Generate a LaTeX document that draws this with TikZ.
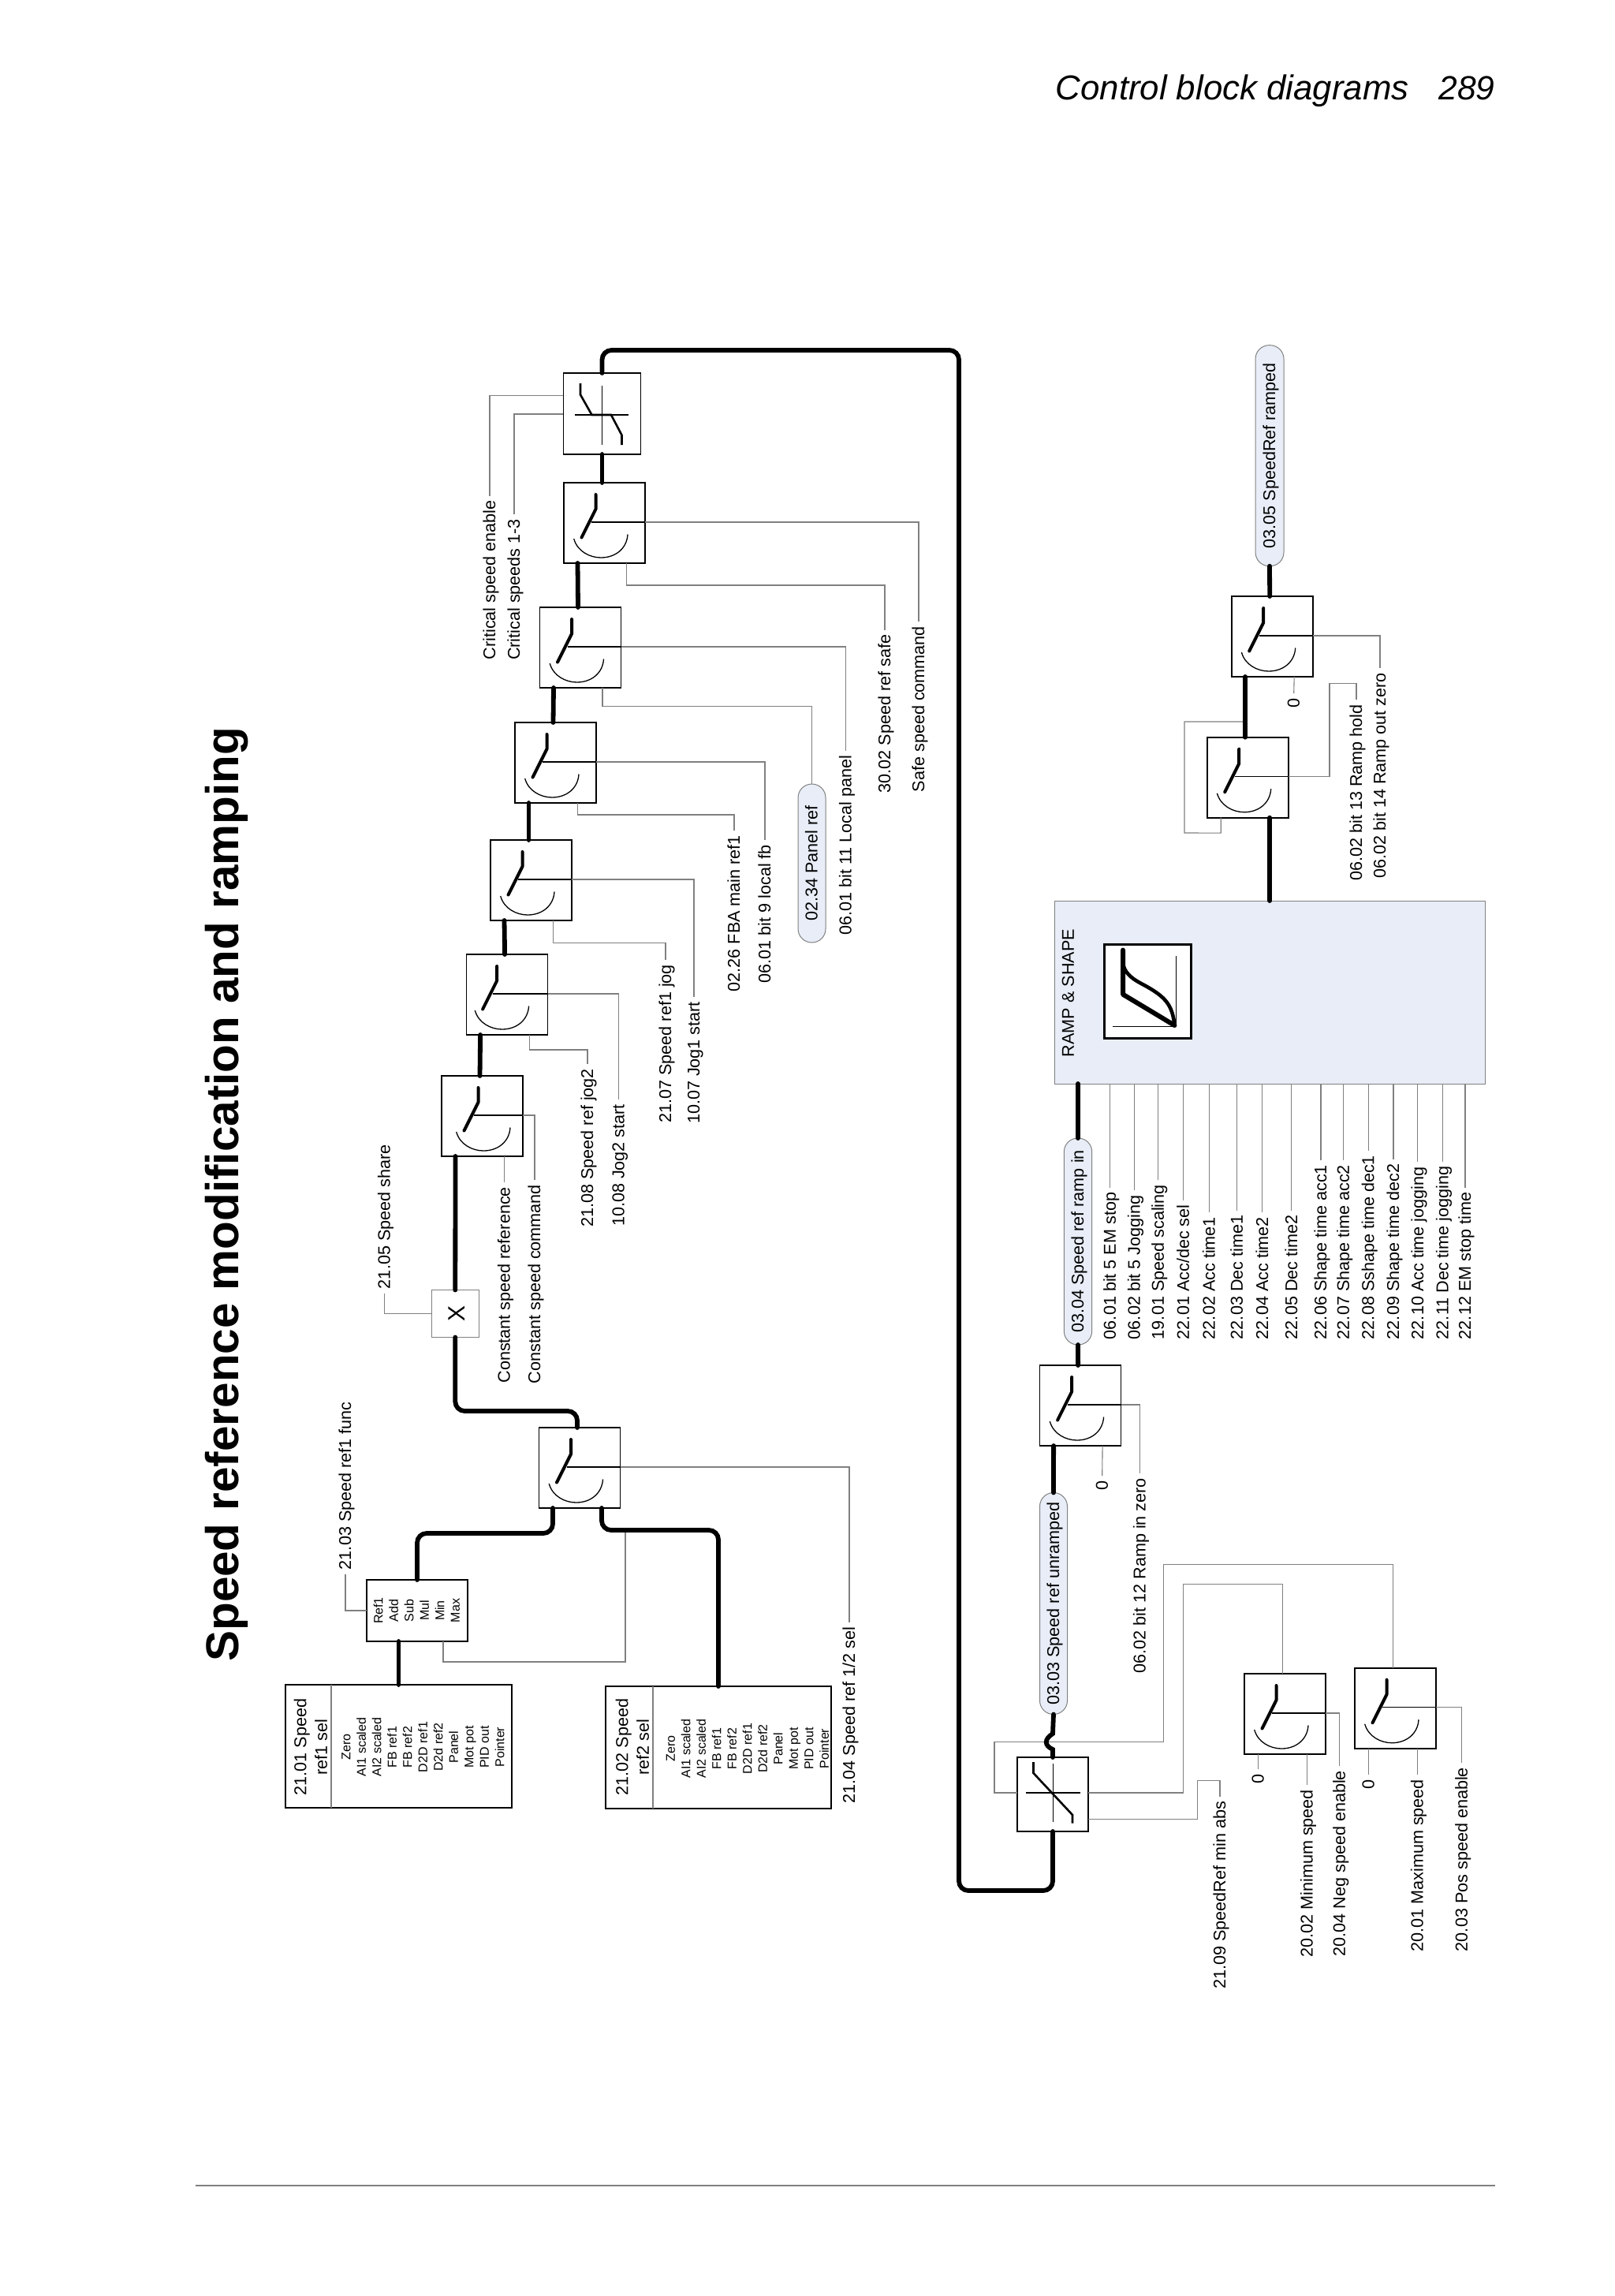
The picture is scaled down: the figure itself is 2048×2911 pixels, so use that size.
\documentclass[tikz,border=0pt]{standalone}
\usepackage{fontspec}
\setmainfont{Liberation Sans}
\definecolor{paleblue}{HTML}{E8EDF7}
\definecolor{wiregray}{HTML}{808080}
\tikzset{
  thickline/.style={line width=2.9pt, line cap=round},
  thinline/.style={line width=.55pt, draw=wiregray},
  fineline/.style={line width=.65pt},
  pole/.style={line width=2pt, line cap=round, line join=round},
  switchbox/.style={draw, fill=white, line width=.8pt, inner sep=0, outer sep=0, minimum width=51.5pt, minimum height=51pt},
  selbox/.style={draw, fill=white, line width=1.1pt, inner sep=0, outer sep=0},
  lbl/.style={rotate=90, inner xsep=3pt, inner ysep=0, outer sep=0, text height=.72em, text depth=0pt, font=\fontsize{10.8}{12}\selectfont},
  small/.style={rotate=90, align=center, inner sep=0, font=\fontsize{8}{9.75}\selectfont},
  pill/.style={draw=wiregray, fill=paleblue, line width=.5pt, rotate=90, inner sep=0, outer sep=0, rounded corners=8.7pt, text height=.72em, text depth=0pt, font=\fontsize{10.8}{12}\selectfont},
}
\newcommand{\switchblock}[4][0]{
  \node[switchbox, anchor=north west] (#2) at (#3,#4) {};
  \begin{scope}[shift={(#2.north west)}]
    \draw[pole] (40.5+#1,15) -- (40.5+#1,33.5) -- (22.5+#1,69.5);
    \draw[fineline] (35+#1,50) -- (103,50);
    \draw[fineline] (12.7+#1,71) .. controls (17+#1,87) and (33+#1,95) .. (47+#1,95) .. controls (66+#1,95) and (80+#1,83) .. (81+#1,65.5);
    \coordinate (#2-in) at (17.5,102);
    \coordinate (#2-out) at (48.5,0);
    \coordinate (#2-alt) at (79.5,102);
    \coordinate (#2-ctl) at (103,50);
  \end{scope}
}
\begin{document}
\begin{tikzpicture}[x=.5pt, y=-.5pt]
\useasboundingbox (0,0) rectangle (2048,2911);

\node[rotate=90, anchor=base west, inner sep=0, font=\fontsize{29.2}{32}\selectfont\bfseries] (title) at (302,2107) {Speed reference modification and ramping};
\node[anchor=base east, inner sep=0, font=\fontsize{21.9}{24}\selectfont\itshape] (pagetitle) at (1787,127) {Control block diagrams};
\node[anchor=base east, inner sep=0, font=\fontsize{21.3}{24}\selectfont\itshape] (pageno) at (1896,127) {289};
\draw[line width=1pt, draw=wiregray] (248,2771) -- (1896,2771);

\node[selbox, minimum width=143.5pt, minimum height=78pt] (sel1) at (505.5,2214) {};
\draw[thinline] (420,2136) -- (420,2292);
\node[rotate=90, align=center, inner sep=0, font=\fontsize{10.8}{13.25}\selectfont] (sel1title) at (394,2215) {21.01 Speed\\ref1 sel};
\node[small] (sel1list) at (536.5,2215) {Zero\\AI1 scaled\\AI2 scaled\\FB ref1\\FB ref2\\D2D ref1\\D2d ref2\\Panel\\Mot pot\\PID out\\Pointer};
\node[selbox, minimum width=143pt, minimum height=77.5pt] (sel2) at (911,2215.5) {};
\draw[thinline] (828,2138) -- (828,2293);
\node[rotate=90, align=center, inner sep=0, font=\fontsize{10.8}{13.25}\selectfont] (sel2title) at (802,2215) {21.02 Speed\\ref2 sel};
\node[small] (sel2list) at (948,2217) {Zero\\AI1 scaled\\AI2 scaled\\FB ref1\\FB ref2\\D2D ref1\\D2d ref2\\Panel\\Mot pot\\PID out\\Pointer};

\node[draw, line width=.7pt, inner sep=0, outer sep=0, minimum width=64pt, minimum height=39pt] (func) at (529,2042) {};
\node[small] (funclist) at (528.5,2042) {Ref1\\Add\\Sub\\Mul\\Min\\Max};
\coordinate (func-fb) at (562,2081);
\coordinate (func-set) at (465,2042);

\switchblock{main}{683.5}{1810}
\switchblock[6]{sone}{560}{1364}
\switchblock[-2]{stwo}{591.6}{1210}
\switchblock{sthree}{622}{1065}
\switchblock{sfour}{653}{916}
\switchblock{sfive}{684.5}{770}
\switchblock{ssix}{715}{612}
\switchblock{sramp}{1318.6}{1731}
\switchblock{smin}{1578}{2122}
\switchblock{smax}{1718}{2114.7}
\switchblock{shold}{1530.7}{934.7}
\switchblock{szero}{1561.7}{756}

\node[draw=wiregray, fill=white, line width=.5pt, inner sep=0, outer sep=0, minimum width=30pt, minimum height=30pt] (share) at (577.3,1665.5) {};
\node[rotate=90, inner sep=0, font=\fontsize{15}{16}\selectfont] (sharex) at (579,1665.5) {X};

\node[switchbox, minimum width=49pt, minimum height=51.5pt] (crit) at (763.5,524.5) {};
\draw[fineline] (763.5,489) -- (763.5,564);
\draw[fineline] (728.7,526) -- (797.4,526);
\draw[line width=1.3pt] (736,486) -- (736,500.4) -- (750.5,526) -- (775,526) -- (788.5,551.7) -- (788.5,564);
\coordinate (crit-a) at (714,501.7);
\coordinate (crit-b) at (714,525);

\node[switchbox, line width=1.2pt, minimum width=44.8pt, minimum height=47pt] (limit) at (1335,2275) {};
\draw[fineline] (1335.4,2236) -- (1335.4,2310);
\draw[fineline] (1301,2273) -- (1370,2273);
\draw[line width=1.3pt] (1310.5,2234) -- (1310.5,2248) -- (1360,2301) -- (1360,2311.6);
\coordinate (limit-a) at (1290,2273);
\coordinate (limit-b) at (1380,2273);
\coordinate (limit-c) at (1380,2306.7);

\node[draw=wiregray, fill=paleblue, line width=.5pt, inner sep=0, outer sep=0, minimum width=273pt, minimum height=116pt] (ramp) at (1610.6,1258) {};
\node[rotate=90, inner sep=0, text height=.72em, text depth=0pt, font=\fontsize{10.8}{12}\selectfont] (ramptitle) at (1354.6,1259) {RAMP \& SHAPE};
\node[draw, fill=white, line width=1.5pt, inner sep=0, outer sep=0, minimum width=55pt, minimum height=59.7pt] (rampsym) at (1455,1257) {};
\draw[fineline] (1491.4,1212) -- (1491.4,1301.5) -- (1410.6,1301.5);
\draw[pole, line width=3pt] (1424,1204.6) -- (1424,1260.7) -- (1489.4,1300);
\draw[pole, line width=2.3pt] (1424,1222) .. controls (1428,1240) and (1445,1245) .. (1458,1253) .. controls (1478,1265) and (1487,1275) .. (1489.4,1300);

\node[pill, minimum width=140.5pt, minimum height=17.5pt] (unramped) at (1336,2033) {03.03 Speed ref unramped};
\node[pill, minimum width=131pt, minimum height=17.7pt] (rampin) at (1367,1574) {03.04 Speed ref ramp in};
\node[pill, minimum width=140pt, minimum height=18pt] (ramped) at (1610,577.7) {03.05 SpeedRef ramped};
\node[pill, minimum width=100.5pt, minimum height=17.5pt] (panelref) at (1029.5,1094.5) {02.34 Panel ref};

\node[lbl, anchor=west] (lfunc) at (438,1996) {21.03 Speed ref1 func};
\node[lbl, anchor=east] (lsel) at (1077,2057) {21.04 Speed ref 1/2 sel};
\node[lbl, anchor=west] (lshare) at (487.3,1640) {21.05 Speed share};
\node[lbl, anchor=east] (lconref) at (639.5,1499) {Constant speed reference};
\node[lbl, anchor=east] (lconcmd) at (678,1496) {Constant speed command};
\node[lbl, anchor=east] (ljog2) at (745,1349) {21.08 Speed ref jog2};
\node[lbl, anchor=east] (ljog2s) at (784.4,1394) {10.08 Jog2 start};
\node[lbl, anchor=east] (ljog1) at (844,1217) {21.07 Speed ref1 jog};
\node[lbl, anchor=east] (ljog1s) at (880,1264) {10.07 Jog1 start};
\node[lbl, anchor=east] (lfba) at (931,1053) {02.26 FBA main ref1};
\node[lbl, anchor=east] (llocal) at (970,1065) {06.01 bit 9 local fb};
\node[lbl, anchor=east] (lpanel) at (1072.4,952) {06.01 bit 11 Local panel};
\node[lbl, anchor=east] (lsafe) at (1122,798.6) {30.02 Speed ref safe};
\node[lbl, anchor=east] (lsafec) at (1165,788) {Safe speed command};
\node[lbl, anchor=east] (lcrit) at (621,628.5) {Critical speed enable};
\node[lbl, anchor=east] (lcrits) at (652,652) {Critical speeds 1-3};
\node[lbl, anchor=east] (lhold) at (1720,887.4) {06.02 bit 13 Ramp hold};
\node[lbl, anchor=east] (lozero) at (1750,847) {06.02 bit 14 Ramp out zero};
\node[lbl, anchor=east] (lzeroa) at (1640.7,879) {0};
\node[lbl, anchor=east] (lzerob) at (1397.7,1871) {0};
\node[lbl, anchor=east] (lizero) at (1445.4,1868) {06.02 bit 12 Ramp in zero};
\node[lbl, anchor=east] (labs) at (1547,2277.7) {21.09 SpeedRef min abs};
\node[lbl, anchor=east] (lzeroc) at (1595.5,2243) {0};
\node[lbl, anchor=east] (lminsp) at (1657.5,2263) {20.02 Minimum speed};
\node[lbl, anchor=east] (lneg) at (1698.6,2239) {20.04 Neg speed enable};
\node[lbl, anchor=east] (lzerod) at (1735.5,2250) {0};
\node[lbl, anchor=east] (lmaxsp) at (1797.5,2250) {20.01 Maximum speed};
\node[lbl, anchor=east] (lpos) at (1853.6,2235) {20.03 Pos speed enable};

\foreach \x/\t [count=\n] in {1407.7/{06.01 bit 5 EM stop},1438.4/{06.02 bit 5 Jogging},1468.6/{19.01 Speed scaling},1500.6/{22.01 Acc/dec sel},1533.3/{22.02 Acc time1},1568.6/{22.03 Dec time1},1600.9/{22.04 Acc time2},1637.8/{22.05 Dec time2},1675/{22.06 Shape time acc1},1703.7/{22.07 Shape time acc2},1735.2/{22.08 Sshape time dec1},1767/{22.09 Shape time dec2},1797.8/{22.10 Acc time jogging},1829.3/{22.11 Dec time jogging},1858/{22.12 EM stop time}} {
  \node[lbl, anchor=west] (ramppar\n) at (\x,1704) {\t};
  \draw[thinline] (ramppar\n.east) -- (ramppar\n.east |- ramp.south);
}

\draw[thinline] (func-set) -| (lfunc.west);
\draw[thinline] (func-fb) -- ++(0,26) -- (793,2107) -- (793,1940);
\draw[thinline] (main-ctl) -| (lsel.east);
\draw[thinline] (share.west) -| (lshare.west);
\draw[thinline] (sone-alt) -- (lconref.east);
\draw[thinline] (sone-ctl) -| (lconcmd.east);
\draw[thinline] (stwo-alt) -- ++(0,19) -| (ljog2.east);
\draw[thinline] (stwo-ctl) -| (ljog2s.east);
\draw[thinline] (sthree-alt) -- ++(0,28.5) -| (ljog1.east);
\draw[thinline] (sthree-ctl) -| (ljog1s.east);
\draw[thinline] (sfour-alt) -- ++(0,15) -| (lfba.east);
\draw[thinline] (sfour-ctl) -| (llocal.east);
\draw[thinline] (sfive-alt) -- ++(0,23.5) -| (panelref.east);
\draw[thinline] (sfive-ctl) -| (lpanel.east);
\draw[thinline] (ssix-alt) -- ++(0,28) -| (lsafe.east);
\draw[thinline] (ssix-ctl) -| (lsafec.east);
\draw[thinline] (crit-a) -| (lcrit.east);
\draw[thinline] (crit-b) -| (lcrits.east);
\draw[thinline] (shold-ctl) -- (1686,984.7) -- (1686,866.7) -| (lhold.east);
\draw[thinline] (szero-ctl) -| (lozero.east);
\draw[thinline] (szero-alt) -- (lzeroa.east);
\draw[thinline] (shold-in) -- ++(0,19.4) -- (1502,1056) -- (1502,915) -- (1579,915);
\draw[thinline] (sramp-alt) -- (lzerob.east);
\draw[thinline] (sramp-ctl) -| (lizero.east);
\draw[thinline] (limit-a) -- (1261,2273) -- (1261,2208.5) -- (1475.6,2208.5) -- (1475.6,1983.5) -| (smax-out);
\draw[thinline] (limit-b) -- (1500.5,2273) -- (1500.5,2008.5) -| (smin-out);
\draw[thinline] (limit-c) -- (1518.7,2306.7) -- (1518.7,2257.6) -| (labs.east);
\draw[thinline] (smin-in) -- (lzeroc.east);
\draw[thinline] (smin-alt) -- (lminsp.east);
\draw[thinline] (smin-ctl) -| (lneg.east);
\draw[thinline] (smax-in) -- (lzerod.east);
\draw[thinline] (smax-alt) -- (lmaxsp.east);
\draw[thinline] (smax-ctl) -| (lpos.east);

\draw[thickline] (sel1.north) -- (sel1.north |- func.south);
\draw[thickline, rounded corners=6pt] (func.north) -- ++(0,-59) -| (main-in);
\draw[thickline, rounded corners=6pt] (sel2.north) -- ++(0,-198) -| (main-alt);
\draw[thickline, rounded corners=6pt] (main-out) -- ++(0,-21) -| (share.south);
\draw[thickline] (share.north) -- (sone-in);
\draw[thickline] (sone-out) -- (stwo-in);
\draw[thickline] (stwo-out) -- (sthree-in);
\draw[thickline] (sthree-out) -- (sfour-in);
\draw[thickline] (sfour-out) -- (sfive-in);
\draw[thickline] (sfive-out) -- (ssix-in);
\draw[thickline] (ssix-out) -- (crit.south);
\coordinate (loopa) at (1216,444);
\coordinate (loopb) at (1216,2397);
\draw[thickline, rounded corners=6pt] (crit.north) |- (loopa) -- (loopb) -| (limit.south);
\draw[thickline] (limit.north) -- (1335,2218) .. controls (1324,2213) and (1324,2205) .. (1335,2198) -- (unramped.west);
\draw[thickline] (unramped.east) -- (sramp-in);
\draw[thickline] (sramp-out) -- (rampin.west);
\draw[thickline] (rampin.east) -- (rampin.east |- ramp.south);
\draw[thickline] (ramp.north -| shold-alt) -- (shold-alt);
\draw[thickline] (shold-out) -- (szero-in);
\draw[thickline] (szero-out) -- (ramped.west);
\end{tikzpicture}
\end{document}
